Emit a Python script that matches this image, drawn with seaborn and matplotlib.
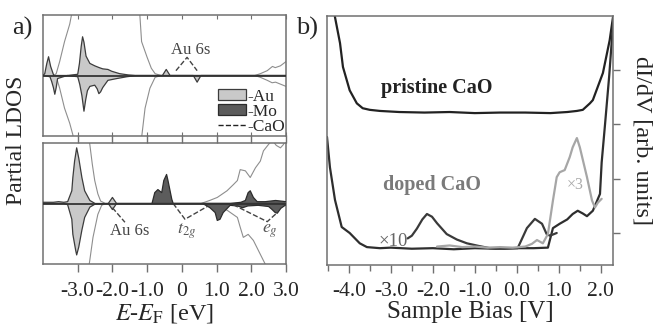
#!usr/bin/env python3
import numpy as np
import pandas as pd
import seaborn as sns
import matplotlib.pyplot as plt
from matplotlib.patches import Patch
from matplotlib.lines import Line2D

# ---- panel a), upper (Au/CaO) : energy [eV] vs partial LDOS (spin up > 0, spin down < 0)
au1_up_e = [-4.0, -3.95, -3.89, -3.84, -3.78, -3.69, -3.3, -3.0, -2.95, -2.9, -2.86, -2.82, -2.76,
            -2.65, -2.51, -2.38, -2.28, -2.13, -2.02, -1.79, -1.55, -1.3, -0.56, -0.45, -0.34, 3.0]
au1_up_v = [0.0, 0.03, 0.2, 0.31, 0.15, 0.0, 0.0, 0.02, 0.2, 0.48, 0.64, 0.55, 0.32,
            0.2, 0.16, 0.13, 0.11, 0.1, 0.07, 0.03, 0.01, 0.0, 0.0, 0.1, 0.0, 0.0]
au1_dn_e = [-4.0, -3.8, -3.75, -3.7, -3.66, -3.62, -3.58, -3.3, -3.0, -2.94, -2.88, -2.82, -2.77,
            -2.72, -2.65, -2.51, -2.44, -2.39, -2.34, -2.28, -2.13, -1.87, -1.58, -1.3, 0.33, 0.44, 0.55, 3.0]
au1_dn_v = [0.0, -0.02, -0.1, -0.2, -0.31, -0.2, -0.05, 0.0, -0.02, -0.15, -0.33, -0.59, -0.4,
            -0.25, -0.18, -0.16, -0.22, -0.3, -0.27, -0.2, -0.08, -0.05, -0.02, 0.0, 0.0, -0.11, 0.0, 0.0]
cao1_up_e = [-4.0, -3.7, -3.62, -3.52, -3.38, -3.23, -3.18, -3.1, -1.3, -1.21, -1.16, -1.0, -0.88,
             -0.77, -0.6, 2.1, 2.26, 2.46, 2.61, 2.69, 2.84, 3.0]
cao1_up_v = [0, 0, 0.03, 0.23, 0.56, 0.85, 1.0, 1.4, 1.4, 1.0, 0.56, 0.3, 0.12,
             0.03, 0, 0, 0.03, 0.08, 0.15, 0.13, 0.16, 0.23]
cao1_dn_e = [-4.0, -3.7, -3.62, -3.52, -3.38, -3.23, -3.14, -3.05, -1.25, -1.15, -1.06, -0.92,
             -0.77, -0.6, 2.1, 2.26, 2.46, 2.6, 2.7, 3.0]
cao1_dn_v = [0, 0, -0.02, -0.21, -0.54, -0.79, -0.98, -1.4, -1.4, -0.98, -0.54, -0.21,
             -0.03, 0, 0, -0.03, -0.08, -0.12, -0.11, -0.18]

# ---- panel a), lower (Au/Mo/CaO)
au2_up_e = [-4.0, -3.7, -3.55, -3.4, -3.29, -3.17, -3.14, -3.09, -3.03, -2.97, -2.88, -2.8,
            -2.65, -2.5, -2.12, -2.0, -1.88, 3.0]
au2_up_v = [0.02, 0.02, 0.03, 0.02, 0.03, 0.21, 0.43, 0.7, 0.92, 0.75, 0.43, 0.21,
            0.05, 0.0, 0.0, 0.1, 0.0, 0.0]
au2_dn_e = [-4.0, -3.4, -3.29, -3.17, -3.14, -3.06, -3.03, -2.97, -2.88, -2.8, -2.65, -2.5,
            -2.12, -2.0, -1.88, 3.0]
au2_dn_v = [0, 0, -0.02, -0.26, -0.51, -0.77, -0.85, -0.72, -0.44, -0.23, -0.06, -0.01,
            0, -0.1, 0, 0]
mo2_up_e = [-0.86, -0.78, -0.69, -0.58, -0.52, -0.44, -0.4, -0.29, -0.25, 1.4, 1.7, 1.83,
            1.91, 1.97, 2.06, 2.17, 2.4, 2.7, 3.0]
mo2_up_v = [0, 0.18, 0.23, 0.18, 0.38, 0.48, 0.38, 0.07, 0, 0, 0.02, 0.05,
            0.18, 0.21, 0.1, 0.03, 0.03, 0.05, 0.03]
mo2_dn_e = [0.6, 0.81, 0.96, 1.02, 1.1, 1.19, 1.39, 1.6, 1.75, 1.9, 2.2, 2.5, 2.6, 2.69,
            2.75, 2.85, 3.0]
mo2_dn_v = [0, -0.07, -0.15, -0.28, -0.26, -0.15, -0.03, -0.04, -0.07, -0.04, -0.03, -0.05,
            -0.1, -0.15, -0.16, -0.08, -0.02]
cao2_up_e = [-2.72, -2.65, -2.58, -2.51, -2.42, -2.34, -2.2, 0.55, 0.8, 1.02, 1.3, 1.48, 1.6,
             1.68, 1.83, 1.97, 2.12, 2.26, 2.35, 2.46, 2.6, 2.72, 2.84, 2.92, 3.0]
cao2_up_v = [1.2, 0.97, 0.65, 0.38, 0.16, 0.04, 0.0, 0.0, 0.05, 0.1, 0.21, 0.31, 0.38,
             0.56, 0.54, 0.43, 0.59, 0.7, 0.87, 0.95, 1.05, 0.96, 0.92, 0.97, 1.05]
cao2_dn_e = [-2.72, -2.65, -2.56, -2.42, -2.31, -2.2, 0.55, 1.0, 1.3, 1.6, 1.68, 1.77, 1.91,
             2.06, 2.26, 2.4, 2.5]
cao2_dn_v = [-1.2, -0.93, -0.56, -0.18, -0.03, 0.0, 0.0, -0.05, -0.11, -0.23, -0.39, -0.56,
             -0.51, -0.61, -0.84, -1.0, -1.2]

# dashed guide lines in panel a)
top_6s_e, top_6s_v = [-0.17, 0.15, 0.44], [0.08, 0.30, 0.08]
bot_6s_e, bot_6s_v = [-2.0, -1.64], [-0.07, -0.31]
t2g_e, t2g_v = [-0.25, 0.09, 0.73], [0.0, -0.26, -0.05]
eg_e, eg_v = [1.48, 2.46, 2.75], [-0.02, -0.3, -0.15]

a_ticks = [-3.0, -2.0, -1.0, 0.0, 1.0, 2.0, 3.0]
a_ticklabels = ['-3.0', '-2.0', '-1.0', '0', '1.0', '2.0', '3.0']

# ---- panel b) : sample bias [V] vs dI/dV
pristine_v = [-4.36, -4.33, -4.21, -4.14, -3.98, -3.81, -3.67, -3.5, -3.26, -2.8, -2.2, -1.6, -1.0,
              -0.4, 0.2, 0.8, 1.2, 1.43, 1.57, 1.74, 1.81, 1.93, 2.05, 2.13, 2.21, 2.29, 2.32]
pristine_y = [5.2, 4.98, 4.5, 4.06, 3.63, 3.39, 3.3, 3.27, 3.25, 3.23, 3.22, 3.23, 3.21,
              3.22, 3.22, 3.21, 3.23, 3.25, 3.27, 3.39, 3.45, 3.7, 3.95, 4.25, 4.55, 4.98, 5.2]
doped_v = [-4.52, -4.45, -4.33, -4.17, -3.98, -3.74, -3.57, -3.26, -3.0, -2.5, -2.0, -1.5, -1.0,
           -0.5, 0.0, 0.4, 0.74, 0.86, 1.02, 1.2, 1.33, 1.45, 1.57, 1.67, 1.81, 1.98, 2.02, 2.1,
           2.2, 2.29, 2.32]
doped_y = [2.77, 2.21, 1.61, 1.11, 1.0, 0.81, 0.74, 0.72, 0.73, 0.71, 0.72, 0.7, 0.72,
           0.71, 0.72, 0.72, 0.73, 1.09, 1.17, 1.25, 1.35, 1.41, 1.36, 1.31, 1.41, 1.72, 2.3, 3.0,
           3.9, 4.85, 5.2]
x10_v = [-2.6, -2.5, -2.38, -2.25, -2.14, -2.02, -1.9, -1.67, -1.43, -1.19, -0.9, -0.64, -0.3,
         0.02, 0.24, 0.43, 0.6, 0.71, 0.79, 0.95]
x10_y = [0.9, 0.95, 1.08, 1.25, 1.35, 1.3, 1.18, 0.98, 0.88, 0.81, 0.76, 0.72, 0.71,
         0.72, 1.09, 1.26, 1.17, 0.98, 0.95, 1.0]
x3_v = [-1.9, -1.6, -1.3, -1.0, -0.7, -0.4, -0.1, 0.2, 0.36, 0.48, 0.62, 0.74, 0.86, 0.95,
        1.02, 1.14, 1.26, 1.33, 1.43, 1.5, 1.67, 1.79, 1.86, 1.93, 2.02]
x3_y = [0.75, 0.77, 0.74, 0.75, 0.73, 0.74, 0.73, 0.75, 0.8, 0.87, 0.81, 0.98, 1.6, 2.03,
        2.12, 2.16, 2.4, 2.58, 2.75, 2.58, 2.03, 1.6, 1.47, 1.56, 1.63]
b_ticks = [-4.0, -3.0, -2.0, -1.0, 0.0, 1.0, 2.0]
b_ticklabels = ['-4.0', '-3.0', '-2.0', '-1.0', '0.0', '1.0', '2.0']

AU_FACE, AU_EDGE = '#c9c9c9', '#3c3c3c'
MO_FACE, MO_EDGE = '#5c5c5c', '#2c2c2c'
CAO_C = '#8e8e8e'
SPINE = '#707070'

sns.set_style("ticks")
plt.rcParams['font.family'] = ['Liberation Serif', 'DejaVu Serif']
plt.rcParams['mathtext.fontset'] = 'stix'


def line(ax, x, y, **kw):
    sns.lineplot(x=x, y=y, ax=ax, sort=False, estimator=None, **kw)


def dos_fill(ax, e, v, face, edge):
    ax.fill_between(e, v, 0, facecolor=face, edgecolor='none', zorder=2)
    line(ax, e, v, color=edge, lw=0.9, zorder=3)


def style_axes(ax):
    for s in ax.spines.values():
        s.set_color(SPINE)
        s.set_linewidth(1.1)


fig = plt.figure(figsize=(6.54, 3.31), dpi=100)
ax1 = fig.add_axes([43 / 654, 1 - 136 / 331, 243 / 654, 121 / 331])
ax2 = fig.add_axes([43 / 654, 1 - 264 / 331, 243 / 654, 121 / 331])
axb = fig.add_axes([327 / 654, 1 - 265 / 331, 286 / 654, 249 / 331])

# panel a) upper
line(ax1, cao1_up_e, cao1_up_v, color=CAO_C, lw=0.8, zorder=1)
line(ax1, cao1_dn_e, cao1_dn_v, color=CAO_C, lw=0.8, zorder=1)
dos_fill(ax1, au1_up_e, au1_up_v, AU_FACE, AU_EDGE)
dos_fill(ax1, au1_dn_e, au1_dn_v, AU_FACE, AU_EDGE)
line(ax1, top_6s_e, top_6s_v, color='#444444', lw=1.0, ls='--', zorder=4)
ax1.text(0.24, 0.42, 'Au 6s', ha='center', va='center', fontsize=12, color='#444444')
ax1.legend(handles=[Patch(facecolor=AU_FACE, edgecolor=AU_EDGE, lw=0.9, label='-Au'),
                    Patch(facecolor=MO_FACE, edgecolor=MO_EDGE, lw=0.9, label='-Mo'),
                    Line2D([0], [0], color='#222222', lw=1.0, ls='--', label='-CaO')],
           loc='lower right', frameon=False, fontsize=12.5, handlelength=1.6, handleheight=0.6,
           handletextpad=0.1, labelspacing=-0.05, borderaxespad=0.0, borderpad=0.05)

# panel a) lower
line(ax2, cao2_up_e, cao2_up_v, color=CAO_C, lw=0.8, zorder=1)
line(ax2, cao2_dn_e, cao2_dn_v, color=CAO_C, lw=0.8, zorder=1)
dos_fill(ax2, au2_up_e, au2_up_v, AU_FACE, AU_EDGE)
dos_fill(ax2, au2_dn_e, au2_dn_v, AU_FACE, AU_EDGE)
dos_fill(ax2, mo2_up_e, mo2_up_v, MO_FACE, MO_EDGE)
dos_fill(ax2, mo2_dn_e, mo2_dn_v, MO_FACE, MO_EDGE)
for xs, ys in [(bot_6s_e, bot_6s_v), (t2g_e, t2g_v), (eg_e, eg_v)]:
    line(ax2, xs, ys, color='#444444', lw=1.0, ls='--', zorder=4)
ax2.text(-1.5, -0.45, 'Au 6s', ha='center', va='center', fontsize=12, color='#444444')
ax2.text(0.15, -0.45, r'$t_{2g}$', ha='center', va='center', fontsize=13, color='#555555')
ax2.text(2.55, -0.45, r'$e_g$', ha='center', va='center', fontsize=13, color='#555555')

for ax in (ax1, ax2):
    ax.axhline(0, color='#333333', lw=1.3, zorder=5)
    ax.set_xlim(-4.0, 3.0)
    ax.set_ylim(-1.0, 1.0)
    ax.set_yticks([])
    ax.set_xticks(a_ticks)
    ax.set_ylabel('')
    style_axes(ax)
    ax.tick_params(axis='x', top=True, direction='in', length=3, color=SPINE)
ax1.set_xticklabels([])
ax2.set_xticklabels(a_ticklabels)
ax2.tick_params(axis='x', bottom=True, direction='out', length=6, width=1, labelsize=15.5, pad=7)
ax2.set_xlabel(r'$E$-$E_{\mathrm{F}}$ [eV]', fontsize=17.5, labelpad=1)
fig.text(17 / 654, 1 - 140 / 331, 'Partial LDOS', rotation=90, ha='center', va='center',
         fontsize=17)
fig.text(22 / 654, 1 - 28 / 331, 'a)', ha='center', va='center', fontsize=19)
fig.text(307 / 654, 1 - 28 / 331, 'b)', ha='center', va='center', fontsize=19)

# panel b)
line(axb, pristine_v, pristine_y, color='#222222', lw=1.6)
line(axb, doped_v, doped_y, color='#2e2e2e', lw=1.6)
line(axb, x10_v, x10_y, color='#3a3a3a', lw=1.6)
line(axb, x3_v, x3_y, color='#a6a6a6', lw=1.6)
axb.text(-1.9, 3.67, 'pristine CaO', ha='center', va='center', fontsize=14.5,
         fontweight='bold', color='#222222')
axb.text(-2.02, 1.88, 'doped CaO', ha='center', va='center', fontsize=14.5,
         fontweight='bold', color='#7a7a7a')
axb.text(-2.95, 0.85, '×10', ha='center', va='center', fontsize=13.5, color='#666666')
axb.text(1.38, 1.88, '×3', ha='center', va='center', fontsize=11.5, color='#aaaaaa')
axb.set_xlim(-4.52, 2.29)
axb.set_ylim(0.41, 5.0)
axb.set_xticks(b_ticks)
axb.set_xticklabels(b_ticklabels)
axb.set_xticks([-4.5, -3.5, -2.5, -1.5, -0.5, 0.5, 1.5], minor=True)
axb.yaxis.tick_right()
axb.set_yticks([1, 2, 3, 4])
axb.set_yticklabels([])
axb.yaxis.set_label_position('right')
axb.set_ylabel('dI/dV [arb. units]', rotation=-90, fontsize=17.5, labelpad=20)
axb.set_xlabel('Sample Bias [V]', fontsize=18, labelpad=0)
style_axes(axb)
axb.tick_params(axis='x', which='major', direction='out', length=6, width=1, color=SPINE,
                labelsize=15.5, pad=6)
axb.tick_params(axis='x', which='minor', direction='out', length=4, width=1, color=SPINE)
axb.tick_params(axis='y', direction='out', length=5, width=1, color=SPINE)

fig.savefig('out.png', dpi=100)
